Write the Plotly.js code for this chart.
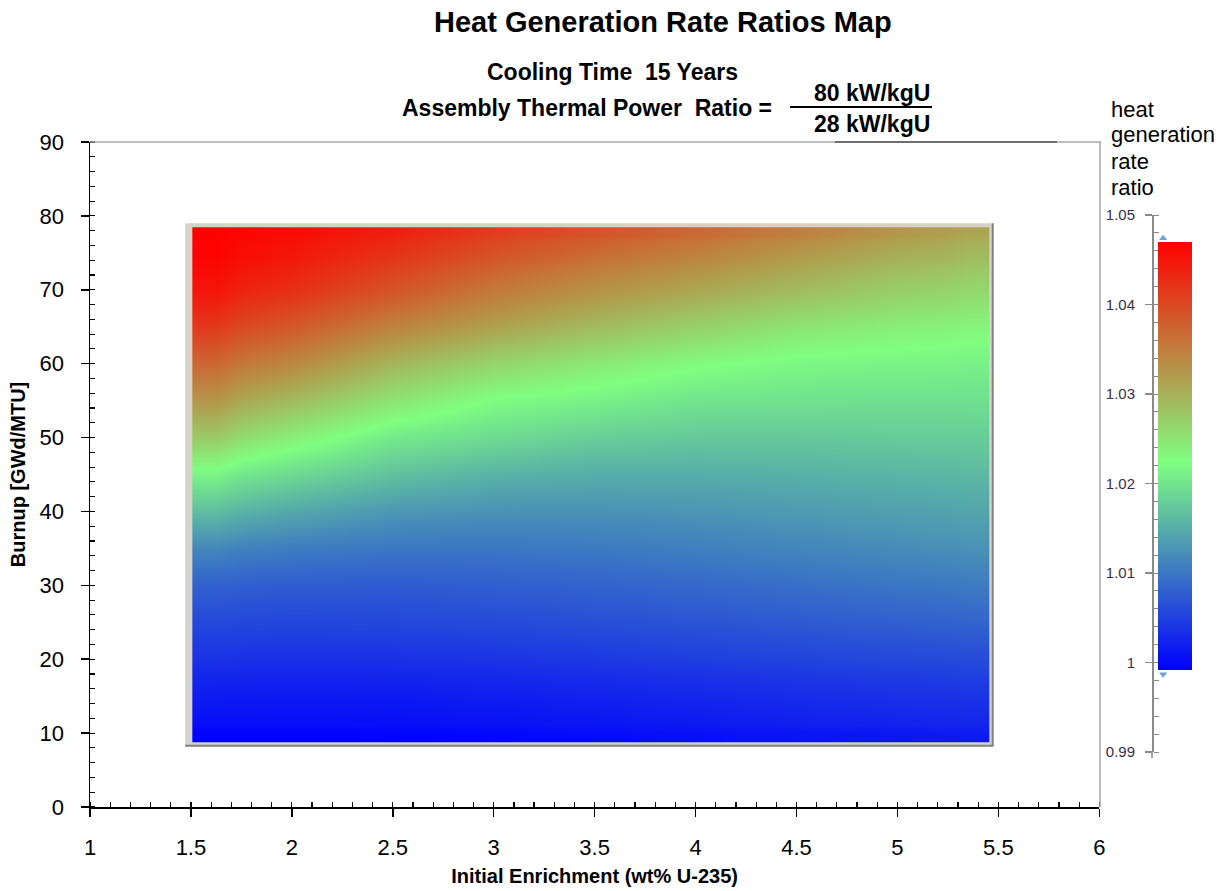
<!DOCTYPE html>
<html>
<head>
<meta charset="utf-8">
<script src="https://cdn.plot.ly/plotly-3.0.1.min.js"></script>
<style>html,body{margin:0;padding:0;background:#fff;}#chart{width:1229px;height:891px;}</style>
</head>
<body>
<div id="chart"></div>
<script>
// ---- data ----
// cell edges of the map along initial enrichment (wt% U-235)
const enrichmentEdges = [1.507, 1.75, 2.25, 2.75, 3.25, 3.75, 4.25, 4.75, 5.25, 5.454];
// cell edges of the map along burnup (GWd/MTU)
const burnupEdges = [8.75, 11, 17.5, 22.5, 27.5, 32.5, 37.5, 42.5, 47.5, 52.5, 57.5, 62.5, 67.5, 72.5, 76.5, 78.46];
// heat generation rate ratio, rows = burnup (low->high), cols = enrichment (low->high)
const ratio = [
  [0.9993, 0.9993, 0.9995, 0.9998, 1.0002, 1.0006, 1.0010, 1.0013, 1.0016],
  [1.0015, 1.0013, 1.0014, 1.0017, 1.0021, 1.0025, 1.0030, 1.0034, 1.0037],
  [1.0038, 1.0036, 1.0037, 1.0040, 1.0044, 1.0049, 1.0054, 1.0058, 1.0061],
  [1.0058, 1.0056, 1.0057, 1.0060, 1.0064, 1.0069, 1.0074, 1.0079, 1.0083],
  [1.0080, 1.0076, 1.0075, 1.0078, 1.0082, 1.0087, 1.0093, 1.0099, 1.0104],
  [1.0115, 1.0105, 1.0100, 1.0100, 1.0103, 1.0108, 1.0114, 1.0120, 1.0125],
  [1.0165, 1.0145, 1.0130, 1.0125, 1.0125, 1.0128, 1.0133, 1.0138, 1.0143],
  [1.0215, 1.0190, 1.0168, 1.0155, 1.0150, 1.0150, 1.0153, 1.0157, 1.0160],
  [1.0275, 1.0240, 1.0205, 1.0192, 1.0180, 1.0175, 1.0175, 1.0177, 1.0179],
  [1.0325, 1.0290, 1.0250, 1.0222, 1.0212, 1.0200, 1.0198, 1.0196, 1.0196],
  [1.0370, 1.0340, 1.0295, 1.0265, 1.0245, 1.0228, 1.0218, 1.0214, 1.0212],
  [1.0415, 1.0385, 1.0345, 1.0315, 1.0290, 1.0269, 1.0250, 1.0240, 1.0234],
  [1.0450, 1.0425, 1.0390, 1.0355, 1.0330, 1.0310, 1.0290, 1.0272, 1.0262],
  [1.0466, 1.0448, 1.0420, 1.0390, 1.0365, 1.0345, 1.0322, 1.0302, 1.0290],
  [1.0470, 1.0458, 1.0440, 1.0412, 1.0390, 1.0370, 1.0348, 1.0325, 1.0310]
];
const ratioMin = 0.9992;
const ratioMax = 1.047;
const markerRatios = [1.0474, 0.9987];
const xTickVals = [1, 1.5, 2, 2.5, 3, 3.5, 4, 4.5, 5, 5.5, 6];
const xTickText = ['1', '1.5', '2', '2.5', '3', '3.5', '4', '4.5', '5', '5.5', '6'];
const yTickVals = [0, 10, 20, 30, 40, 50, 60, 70, 80, 90];
const cbTickVals = [0.99, 1.0, 1.01, 1.02, 1.03, 1.04, 1.05];
const cbTickText = ['0.99', '1', '1.01', '1.02', '1.03', '1.04', '1.05'];

// ---- layout helpers (pixel -> paper) ----
const W = 1229, H = 891, ML = 90, MR = 20, MT = 142, MB = 84;
const PW = W - ML - MR, PH = H - MT - MB;
const px = v => (v - ML) / PW;
const py = v => (H - MB - v) / PH;
const FONT = 'Liberation Sans, Arial, sans-serif';

const heat = {
  type: 'heatmap',
  x: enrichmentEdges,
  y: burnupEdges,
  z: ratio,
  zmin: ratioMin,
  zmax: ratioMax,
  zsmooth: 'best',
  colorscale: [[0, 'rgb(0,0,255)'], [0.487, 'rgb(128,255,128)'], [1, 'rgb(255,0,0)']],
  hoverinfo: 'x+y+z',
  colorbar: {
    x: px(1158), xanchor: 'left', xpad: 0, ypad: 0,
    y: py(242), yanchor: 'top',
    thickness: 34, thicknessmode: 'pixels',
    len: 428, lenmode: 'pixels',
    outlinewidth: 0, borderwidth: 0,
    showticklabels: false, ticks: ''
  }
};

const marks = {
  type: 'scatter', mode: 'markers',
  x: [0.33, 0.33], y: markerRatios,
  xaxis: 'x2', yaxis: 'y2',
  marker: {symbol: ['triangle-up', 'triangle-down'], size: 7, color: '#6f9fd6'},
  hoverinfo: 'skip', showlegend: false
};

const layout = {
  width: W, height: H,
  margin: {l: ML, r: MR, t: MT, b: MB},
  paper_bgcolor: '#fff', plot_bgcolor: '#fff',
  showlegend: false,
  font: {family: FONT, color: '#000'},
  xaxis: {
    domain: [0, px(1099.3)],
    range: [1, 6],
    tickvals: xTickVals, ticktext: xTickText,
    ticks: 'outside', ticklen: 8, tickwidth: 1.5, tickcolor: '#000',
    minor: {dtick: 0.1, ticks: 'inside', ticklen: 5, tickwidth: 1.2, tickcolor: '#000', showgrid: false},
    showgrid: false, zeroline: false,
    showline: true, linecolor: '#000', linewidth: 1.5,
    tickfont: {size: 22, family: FONT, color: '#000'},
    ticklabelstandoff: 12,
    title: {text: 'Initial Enrichment (wt% U-235)', font: {size: 20, family: FONT, weight: 'bold'}, standoff: 10},
    anchor: 'y', fixedrange: true
  },
  yaxis: {
    domain: [0, 1],
    range: [0, 90],
    tickvals: yTickVals,
    ticks: 'outside', ticklen: 8, tickwidth: 1.5, tickcolor: '#000',
    minor: {dtick: 2, ticks: 'inside', ticklen: 5, tickwidth: 1.2, tickcolor: '#000', showgrid: false},
    showgrid: false, zeroline: false,
    showline: true, linecolor: '#000', linewidth: 1.5,
    tickfont: {size: 22, family: FONT, color: '#000'},
    ticklabelstandoff: 12,
    title: {text: 'Burnup [GWd/MTU]', font: {size: 20, family: FONT, weight: 'bold'}, standoff: 8},
    anchor: 'x', fixedrange: true
  },
  xaxis2: {
    domain: [px(1145), px(1200)], range: [0, 1], visible: false, anchor: 'y2', fixedrange: true
  },
  yaxis2: {
    domain: [py(752), py(215)],
    range: [0.99, 1.05],
    anchor: 'free', position: px(1152), side: 'left',
    tickvals: cbTickVals, ticktext: cbTickText,
    ticks: 'outside', ticklen: 7, tickwidth: 1.2, tickcolor: '#8a8a8a',
    minor: {dtick: 0.002, ticks: 'inside', ticklen: 5, tickwidth: 1, tickcolor: '#8a8a8a', showgrid: false},
    showgrid: false, zeroline: false,
    showline: true, linecolor: '#8a8a8a', linewidth: 1.5,
    tickfont: {size: 15, family: FONT, color: '#3a2f4a'},
    ticklabelstandoff: 7,
    fixedrange: true
  },
  shapes: [
    // light frame around the map
    {type: 'rect', xref: 'x', yref: 'y', x0: 1.472, x1: 5.474, y0: 8.25, y1: 79.0,
     fillcolor: '#d6d2ca', line: {width: 0}, layer: 'below'},
    {type: 'path', xref: 'x', yref: 'y', path: 'M 1.472 8.3 L 5.472 8.3 L 5.472 79.0',
     line: {color: '#808080', width: 2}, layer: 'above'},
    // top & right plot frame
    {type: 'line', xref: 'paper', yref: 'paper', x0: 0, x1: px(1101), y0: 1, y1: 1, line: {color: '#a8a8a8', width: 1.5}},
    {type: 'line', xref: 'paper', yref: 'paper', x0: px(835), x1: px(1057), y0: 1, y1: 1, line: {color: '#555', width: 1.5}},
    {type: 'line', xref: 'paper', yref: 'paper', x0: px(1100), x1: px(1100), y0: 0, y1: 1, line: {color: '#a8a8a8', width: 1.5}},
    // colorbar axis extension below 0.99
    {type: 'line', xref: 'paper', yref: 'paper', x0: px(1152), x1: px(1152), y0: py(752), y1: py(758), line: {color: '#8a8a8a', width: 1.5}},
    // fraction bar
    {type: 'line', xref: 'paper', yref: 'paper', x0: px(790), x1: px(932), y0: py(107), y1: py(107), line: {color: '#000', width: 2}}
  ],
  annotations: [
    {text: 'Heat Generation Rate Ratios Map', xref: 'paper', yref: 'paper', x: px(663), y: py(22), xanchor: 'center', yanchor: 'middle',
     showarrow: false, font: {size: 29, family: FONT, weight: 'bold'}},
    {text: 'Cooling Time  15 Years', xref: 'paper', yref: 'paper', x: px(612), y: py(72), xanchor: 'center', yanchor: 'middle',
     showarrow: false, font: {size: 23, family: FONT, weight: 'bold'}},
    {text: 'Assembly Thermal Power  Ratio =', xref: 'paper', yref: 'paper', x: px(774), y: py(108), xanchor: 'right', yanchor: 'middle',
     showarrow: false, font: {size: 23, family: FONT, weight: 'bold'}},
    {text: '80 kW/kgU', xref: 'paper', yref: 'paper', x: px(812), y: py(93), xanchor: 'left', yanchor: 'middle',
     showarrow: false, font: {size: 23, family: FONT, weight: 'bold'}},
    {text: '28 kW/kgU', xref: 'paper', yref: 'paper', x: px(812), y: py(124), xanchor: 'left', yanchor: 'middle',
     showarrow: false, font: {size: 23, family: FONT, weight: 'bold'}},
    {text: 'heat', xref: 'paper', yref: 'paper', x: px(1109), y: py(110), xanchor: 'left', yanchor: 'middle',
     showarrow: false, font: {size: 22, family: FONT}},
    {text: 'generation', xref: 'paper', yref: 'paper', x: px(1109), y: py(135), xanchor: 'left', yanchor: 'middle',
     showarrow: false, font: {size: 22, family: FONT}},
    {text: 'rate', xref: 'paper', yref: 'paper', x: px(1109), y: py(161), xanchor: 'left', yanchor: 'middle',
     showarrow: false, font: {size: 22, family: FONT}},
    {text: 'ratio', xref: 'paper', yref: 'paper', x: px(1109), y: py(187), xanchor: 'left', yanchor: 'middle',
     showarrow: false, font: {size: 22, family: FONT}}
  ]
};

Plotly.newPlot('chart', [heat, marks], layout, {displayModeBar: false, staticPlot: true});
</script>
</body>
</html>
